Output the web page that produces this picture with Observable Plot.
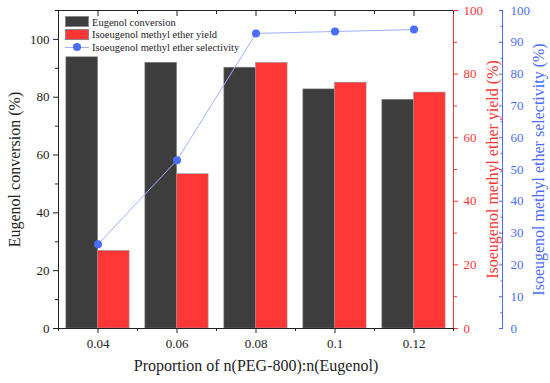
<!DOCTYPE html>
<html>
<head>
<meta charset="utf-8">
<script src="https://cdn.jsdelivr.net/npm/d3@7"></script>
<script src="https://cdn.jsdelivr.net/npm/@observablehq/plot@0.6"></script>
<style>
  body { margin: 0; background: white; }
  #wrap { position: relative; width: 550px; height: 383px; font-family: "Liberation Serif", "Times New Roman", serif; }
  #wrap svg, #wrap svg text { font-family: "Liberation Serif", "Times New Roman", serif !important; }
  .leg { position: absolute; left: 65px; font-size: 10.5px; color: #222; font-family: "Liberation Serif", serif; }
  .row { position: absolute; left: 0; width: 200px; height: 12px; white-space: nowrap; }
  .sw { position: absolute; left: 0; top: 0; width: 24px; height: 11px; box-sizing: border-box; border: 0.5px solid #888; }
  .lbl { position: absolute; left: 27px; top: -0.5px; line-height: 13px; }
  .ln { position: absolute; left: 0; top: 5px; width: 24px; height: 1px; background: #9fb0ff; }
  .dt { position: absolute; left: 8px; top: 1.5px; width: 8px; height: 8px; border-radius: 50%; background: #4a6cff; }
</style>
</head>
<body>
<div id="wrap"></div>
<script>
// ---- data ----
const categories = [0.04, 0.06, 0.08, 0.1, 0.12];
const categoryLabels = ["0.04", "0.06", "0.08", "0.1", "0.12"];
const conversion = [93.8, 91.9, 90.2, 82.7, 79.1];      // Eugenol conversion (%) - left axis
const yieldValues = [24.4, 48.5, 83.5, 77.3, 74.2];     // Isoeugenol methyl ether yield (%) - red axis
const selectivity = [26.5, 52.9, 92.8, 93.4, 94.0];     // Isoeugenol methyl ether selectivity (%) - blue axis
const leftTicks = [0, 20, 40, 60, 80, 100];
const leftMinor = [10, 30, 50, 70, 90, 110];
const redTicks = [0, 20, 40, 60, 80, 100];
const redMinor = [10, 30, 50, 70, 90];
const blueTicks = [0, 10, 20, 30, 40, 50, 60, 70, 80, 90, 100];
const blueMinor = [5, 15, 25, 35, 45, 55, 65, 75, 85, 95];
const xMinor = [0.03, 0.05, 0.07, 0.09, 0.11, 0.13];

const leftMax = 110, rightMax = 100;
const k = leftMax / rightMax; // map right-axis values onto the left scale
const barW = 0.008;

const DARK = "#3d3d3d", RED = "#ff3636", BLUE = "#4a6cff", BLUE_LINE = "#9fb0ff";
const FONT = "Liberation Serif";

const rows = categories.map((c, i) => ({x: c, conv: conversion[i], yld: yieldValues[i], sel: selectivity[i]}));

const chart = Plot.plot({
  width: 550, height: 383,
  marginLeft: 58, marginRight: 97, marginTop: 10, marginBottom: 55,
  x: {type: "linear", domain: [0.03, 0.13]},
  y: {domain: [0, leftMax]},
  style: {fontFamily: FONT, fontSize: "13px", background: "white", color: "#222"},
  marks: [
    Plot.rectY(rows, {x1: d => d.x - barW, x2: d => d.x, y: "conv", fill: DARK, stroke: "#777", strokeWidth: 0.6}),
    Plot.rectY(rows, {x1: d => d.x, x2: d => d.x + barW, y: d => d.yld * k, fill: RED, stroke: "#999", strokeWidth: 0.6}),
    Plot.line(rows, {x: "x", y: d => d.sel * k, stroke: BLUE_LINE, strokeWidth: 1}),
    Plot.dot(rows, {x: "x", y: d => d.sel * k, r: 4, fill: BLUE}),
    // frame
    Plot.frame({anchor: "top", stroke: "#222"}),
    Plot.frame({anchor: "left", stroke: "#222"}),
    Plot.frame({anchor: "bottom", stroke: "#222"}),
    Plot.frame({anchor: "right", stroke: RED}),
    Plot.frame({anchor: "right", stroke: BLUE, dx: 49}),
    // left axis
    Plot.axisY(leftTicks, {anchor: "left", tickSize: 5, tickPadding: 4, label: null, fontSize: 13, stroke: "#222", fill: "#222"}),
    Plot.axisY(leftMinor, {anchor: "left", tickSize: 3, tickFormat: () => "", label: null, stroke: "#222"}),
    // bottom axis
    Plot.axisX(categories, {anchor: "bottom", tickSize: 5, tickPadding: 5, label: null, fontSize: 13,
      tickFormat: d => categoryLabels[categories.indexOf(d)], stroke: "#222", fill: "#222"}),
    Plot.axisX(xMinor, {anchor: "bottom", tickSize: 3, tickFormat: () => "", label: null, stroke: "#222"}),
    // top inward ticks
    Plot.axisX(categories, {anchor: "top", tickSize: -5, tickFormat: () => "", label: null, stroke: "#222"}),
    Plot.axisX(xMinor, {anchor: "top", tickSize: -3, tickFormat: () => "", label: null, stroke: "#222"}),
    // red right axis
    Plot.axisY(redTicks.map(v => v * k), {anchor: "right", tickSize: 4, tickPadding: 6, label: null, fontSize: 13,
      tickFormat: d => String(Math.round(d / k)), stroke: RED, fill: RED}),
    Plot.axisY(redMinor.map(v => v * k), {anchor: "right", tickSize: 3, tickFormat: () => "", label: null, stroke: RED}),
    // blue right axis
    Plot.axisY(blueTicks.map(v => v * k), {anchor: "right", dx: 49, tickSize: -4, tickPadding: 12, label: null, fontSize: 13,
      tickFormat: d => String(Math.round(d / k)), stroke: BLUE, fill: BLUE}),
    Plot.axisY(blueMinor.map(v => v * k), {anchor: "right", dx: 49, tickSize: -2.5, tickFormat: () => "", label: null, stroke: BLUE}),
    // axis titles
    Plot.text(["Eugenol conversion (%)"], {frameAnchor: "left", textAnchor: "middle", rotate: -90, dx: -44, fontSize: 16, fill: "#222", fontFamily: FONT}),
    Plot.text(["Isoeugenol methyl ether yield (%)"], {frameAnchor: "right", textAnchor: "middle", rotate: -90, dx: 39, fontSize: 16, fill: RED, fontFamily: FONT}),
    Plot.text(["Isoeugenol methyl ether selectivity (%)"], {frameAnchor: "right", textAnchor: "middle", rotate: -90, dx: 85, fontSize: 16, fill: BLUE, fontFamily: FONT}),
    Plot.text(["Proportion of n(PEG-800):n(Eugenol)"], {frameAnchor: "bottom", dy: 42, fontSize: 16, fill: "#222", fontFamily: FONT})
  ]
});

const wrap = document.getElementById("wrap");
wrap.appendChild(chart);

const legendItems = [
  {label: "Eugenol conversion", kind: "bar", color: DARK},
  {label: "Isoeugenol methyl ether yield", kind: "bar", color: RED},
  {label: "Isoeugenol methyl ether selectivity", kind: "linedot", color: BLUE}
];
const leg = document.createElement("div");
leg.className = "leg";
leg.style.top = "16px";
legendItems.forEach((it, i) => {
  const row = document.createElement("div");
  row.className = "row";
  row.style.top = (i * 12.8) + "px";
  if (it.kind === "bar") {
    const sw = document.createElement("div");
    sw.className = "sw"; sw.style.background = it.color;
    row.appendChild(sw);
  } else {
    const ln = document.createElement("div"); ln.className = "ln"; row.appendChild(ln);
    const dt = document.createElement("div"); dt.className = "dt"; row.appendChild(dt);
  }
  const lb = document.createElement("div");
  lb.className = "lbl"; lb.textContent = it.label;
  row.appendChild(lb);
  leg.appendChild(row);
});
wrap.appendChild(leg);
</script>
</body>
</html>
